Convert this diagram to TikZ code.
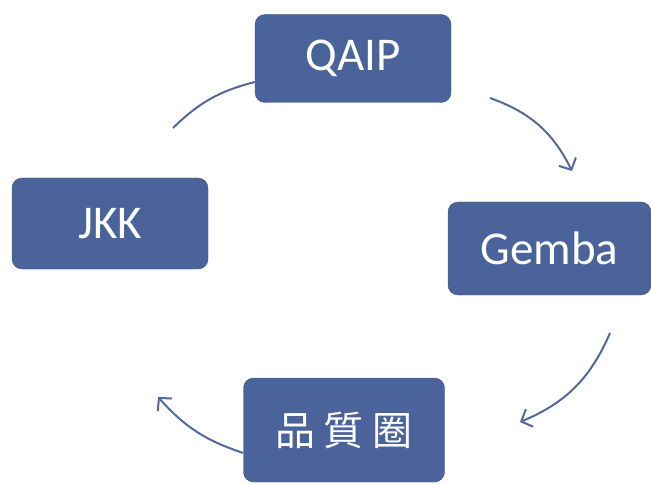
\documentclass[tikz,border=0pt]{standalone}
\usepackage{fontspec}
\setmainfont{Carlito}
\newfontfamily\cjk[LetterSpace=22]{Noto Sans CJK TC}
\usetikzlibrary{arrows.meta}
\definecolor{boxblue}{RGB}{74,99,154}
\definecolor{lineblue}{RGB}{84,104,156}
\tikzset{
  stepbox/.style={draw=boxblue!85!black, fill=boxblue, rounded corners=10pt,
    text=white, font=\fontsize{47}{49}\selectfont, inner sep=0pt},
  cyc/.style={draw=lineblue, line width=2pt, bend left=22},
  tip/.style={-{Straight Barb[length=9pt,width=19pt,line width=2pt]}}
}
\begin{document}
\begin{tikzpicture}[x=1pt,y=-1pt]
  \useasboundingbox (0,0) rectangle (651,484);
  \node[stepbox, minimum width=196pt, minimum height=88pt] (qaip) at (353,58.5) {QAIP};
  \node[stepbox, minimum width=203pt, minimum height=93pt] (gemba) at (549.5,248.5) {Gemba};
  \node[stepbox, minimum width=201pt, minimum height=104pt] (qcc) at (344,430) {\cjk\fontsize{40}{42}\selectfont 品質圈};
  \node[stepbox, minimum width=196pt, minimum height=91pt] (jkk) at (110,223.5) {JKK};
  \coordinate (a1) at (173,128);
  \coordinate (a2s) at (490,98);
  \coordinate (a2e) at (572,171);
  \coordinate (a3s) at (610,333);
  \coordinate (a3e) at (520,422);
  \coordinate (a4e) at (158,397);
  \draw[cyc, bend left=15] (a1) to (qaip.west |- 0,82);
  \draw[cyc, tip] (a2s) to (a2e);
  \draw[cyc, tip] (a3s) to (a3e);
  \draw[cyc, tip, bend left=15] (qcc.west |- 0,453) to (a4e);
\end{tikzpicture}
\end{document}
